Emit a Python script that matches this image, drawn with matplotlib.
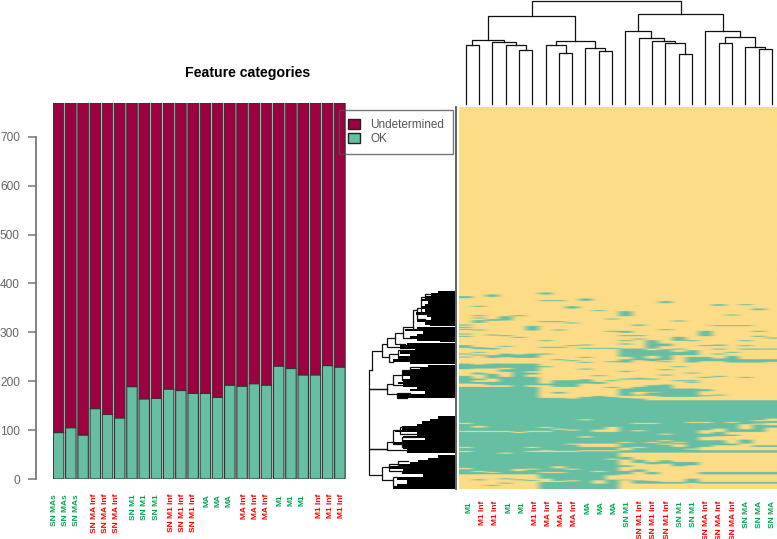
import numpy as np
import matplotlib
matplotlib.use("Agg")
import matplotlib.pyplot as plt
from matplotlib.patches import Patch

plt.rcParams['font.family'] = ['Liberation Sans', 'DejaVu Sans']

W, H = 777, 539
GREEN = "#66BFA3"
MAROON = "#9E0142"
YELLOW = "#FDDC87"
LAB_GREEN = "#00A650"
LAB_RED = "#FF0000"

# stacked bars
total_features = 769
ok_counts = [95, 105, 90, 144, 132, 125, 189, 164, 165, 184, 181, 175,
             175, 167, 192, 190, 195, 192, 231, 226, 213, 213, 232, 229]
bar_labels = ["SN MAs"]*3 + ["SN MA Inf"]*3 + ["SN M1"]*3 + ["SN M1 Inf"]*3 + \
             ["MA"]*3 + ["MA Inf"]*3 + ["M1"]*3 + ["M1 Inf"]*3
# the labels sit in groups, not exactly below the bars
bar_label_pos = [-0.33, 0.57, 1.48, 2.95, 3.85, 4.75, 6.15, 7.05, 8.03, 9.26, 10.16, 11.07,
                 12.13, 13.03, 13.93, 15.16, 16.07, 16.97, 18.1, 19.0, 19.92, 21.3, 22.2, 23.1]

heat_labels = ["M1", "M1 Inf", "M1 Inf", "M1", "M1", "M1 Inf", "MA Inf", "MA Inf", "MA Inf",
               "MA", "MA", "MA", "SN M1", "SN M1 Inf", "SN M1 Inf", "SN M1 Inf", "SN M1", "SN M1",
               "SN MA Inf", "SN MA Inf", "SN MA Inf", "SN MA", "SN MA", "SN MA"]

# column dendrogram: (left, right, height), ids above 23 are earlier merges
col_merges = [(4, 5, 53.7), (3, 24, 58.7), (2, 25, 61.7), (0, 1, 58.7), (27, 26, 63.7),
              (7, 8, 51), (6, 29, 58.7), (10, 11, 53), (9, 31, 55.7), (30, 32, 62.7),
              (28, 33, 87.7), (16, 17, 49.7), (15, 35, 60.7), (14, 36, 62.7), (13, 37, 66.3),
              (12, 38, 73.3), (19, 20, 61), (22, 23, 55), (21, 41, 56.7), (40, 42, 67),
              (18, 43, 72.7), (39, 44, 90.3), (34, 45, 103.3)]

# heatmap rows, counted down from the first row with any OK cells.
# plain int = thin band, tuple = (first, last)
rows_above = 534
rows_below = 611
upper_ok = [
    [(33, 39), 118, 125, 131, 145, 152, (180, 188), 205, 214, (235, 252), (272, 295), (305, 360)],
    [62, 90, 97, (105, 113), 133, (186, 192), 200, 208, (238, 250), (262, 268), (280, 285), (290, 296), (305, 360)],
    [(28, 35), (102, 107), 148, (188, 193), (210, 218), (235, 250), (266, 280), (290, 300), (305, 360)],
    [(93, 106), 150, 182, (205, 216), (235, 248), (252, 260), (275, 300), (305, 360)],
    [90, 155, (208, 218), (235, 360)],
    [(122, 136), (205, 218), (235, 258), (262, 268), (275, 300), (305, 360)],
    [(22, 28), 45, 108, 165, 185, 205, 243, (295, 300), (338, 360)],
    [45, 108, 133, 185, 222, (285, 305), (320, 325), (338, 360)],
    [(63, 70), 112, 180, 225, (285, 305), (340, 360)],
    [(40, 47), 178, 188, 215, 230, 250, (282, 295), (335, 360)],
    [75, 188, 270, (290, 296), (332, 360)],
    [100, 137, 188, 228, 285, 305, (335, 360)],
    [(78, 93), (137, 143), 150, 165, 175, (190, 215), (222, 232), 257, 280, (310, 332), (338, 360)],
    [(118, 122), 150, 160, (190, 225), (278, 283), (305, 320), 328, (340, 360)],
    [(165, 190), (195, 212), (220, 228), 280, (300, 320), (322, 332), (345, 360)],
    [(48, 54), 132, (175, 183), (192, 225), 228, 252, 268, (298, 335), (345, 360)],
    [106, (155, 167), 190, (200, 210), 243, 285, (310, 335), (345, 360)],
    [165, (195, 210), (215, 232), 262, 285, 290, (310, 335), (345, 360)],
    [(137, 153), 180, (215, 228), 275, (312, 318), 330, (345, 360)],
    [(57, 62), 120, (178, 182), 190, 205, (220, 228), 272, 328, (345, 360)],
    [88, 120, 200, (212, 232), (345, 360)],
    [57, 120, 165, 180, 190, (222, 232), 275, (345, 360)],
    [(70, 75), 137, 152, 190, (222, 232), (345, 360)],
    [157, 190, (222, 230), (345, 360)],
]
# lower block is OK by default, these are the Undetermined bands
lower_offset = 345
lower_start = 360
lower_undet = [
    [68, 92, 140, 152, (203, 207), (222, 266)],
    [(77, 82), 92, 212, (222, 237), (240, 266)],
    [92, 215, (222, 254), (257, 266)],
    [92, 157, (222, 234), (237, 247), (250, 266)],
    [95, (206, 212), (222, 237), (240, 266)],
    [92, 140, 152, 205, (222, 239), (242, 266)],
    [80, 92, (150, 155), 215, (235, 245)],
    [85, 152, (198, 204), 215, 242],
    [88, 130, 152, 205, 240],
    [57, (108, 112), (130, 140), 150],
    [(88, 95), (130, 140), 150, 212, (240, 250)],
    [(80, 95), (130, 140), 150, 175, (225, 238)],
    [125, (142, 150), (157, 170), (178, 195), (200, 212), (222, 238), (240, 266)],
    [68, 90, 140, (157, 178), (188, 207), (215, 240), (250, 266)],
    [68, 125, (157, 185), (192, 215), (222, 242), (250, 266)],
    [100, 120, 130, (157, 180), (190, 245), (250, 266)],
    [125, (132, 140), (157, 185), (198, 245), (250, 266)],
    [65, 145, (157, 185), (195, 235), (248, 266)],
    [65, (90, 100), (110, 120), (140, 150), (157, 215), (222, 245), (250, 266)],
    [(85, 95), (108, 120), (135, 150), (157, 215), (222, 245), (250, 266)],
    [65, (95, 103), (107, 130), (135, 150), (157, 215), (222, 245), (250, 266)],
    [(72, 87), (95, 118), (130, 150), (157, 215), (222, 245), (250, 266)],
    [60, 70, (95, 135), (140, 150), (157, 215), (222, 245), (250, 266)],
    [(55, 62), (68, 75), (82, 135), (140, 150), (157, 215), (222, 245), (250, 266)],
]

# row dendrogram: (depth, row_a, depth_a, row_b, depth_b) brackets
row_brackets = [
    (28, 255, 35, 310, 82), (28, 310, 82, 490, 82), (28, 490, 82, 570, 65), (35, 198, 65, 255, 35),
    (65, 175, 82, 215, 88), (82, 158, 105, 185, 120), (105, 142, 130, 175, 135), (130, 125, 160, 157, 155),
    (160, 75, 170, 130, 175), (170, 68, 182, 100, 195), (182, 35, 195, 85, 205), (195, 28, 212, 42, 210),
    (88, 205, 115, 230, 100), (115, 195, 150, 218, 130), (82, 295, 100, 325, 112), (100, 270, 125, 300, 130),
    (125, 255, 150, 285, 135), (150, 245, 180, 265, 165), (112, 322, 150, 338, 140),
    (82, 470, 100, 495, 140), (100, 433, 120, 475, 125), (120, 425, 165, 445, 170), (125, 455, 170, 485, 140),
    (65, 545, 88, 585, 100), (88, 535, 115, 557, 130), (100, 575, 110, 603, 105), (115, 527, 145, 545, 150),
]
# black mass of the leaves: row where it starts, depth it reaches
blob_rows = [18, 25, 33, 42, 48, 55, 62, 72, 80, 88, 96, 104, 110, 120, 123, 125, 130, 137, 145, 152, 160, 167,
             170, 172, 180, 190, 195, 205, 212, 222, 230, 235, 238, 245, 252, 258, 265, 272, 280, 290, 297, 305,
             312, 318, 325, 332, 338, 393, 400, 407, 415, 423, 433, 440, 445, 451, 457, 463, 470, 480, 490, 500,
             503, 510, 517, 523, 530, 537, 543, 550, 557, 567, 575, 585, 595, 603]
blob_depth = [235, 212, 195, 182, 205, 195, 182, 195, 168, 200, 212, 170, 195, 210, 286, 170, 135, 190, 170, 150, 170, 240,
              286, 140, 120, 165, 120, 150, 115, 100, 150, 286, 205, 180, 150, 125, 130, 150, 130, 115, 130, 170,
              150, 195, 115, 110, 286, 235, 210, 185, 170, 125, 105, 170, 170, 130, 195, 130, 100, 130, 140, 140,
              286, 235, 205, 175, 150, 115, 90, 130, 125, 190, 110, 140, 110, 100]
blob_end = 611


def px_axes(x0, y0, x1, y1):
    # axes from pixel box, y counted from the top like in the picture
    return fig.add_axes([x0/W, 1-y1/H, (x1-x0)/W, (y1-y0)/H])


def fill_bands(col_vals, bands, offset, value):
    for b in bands:
        if isinstance(b, tuple):
            lo, hi = b
        else:
            lo, hi = b, b+3
        col_vals[lo+offset:hi+offset] = value


fig = plt.figure(figsize=(W/100, H/100), dpi=100)

# bars, no snapping so the gaps between them stay even
ax = px_axes(52.5, 103, 346, 479)
xs = np.arange(len(ok_counts))
undetermined = [total_features-v for v in ok_counts]
low = ax.bar(xs, ok_counts, width=0.86, color=GREEN, edgecolor="#333333", linewidth=0.8)
high = ax.bar(xs, undetermined, bottom=ok_counts, width=0.86, color=MAROON, edgecolor="#333333", linewidth=0.8)
for b in list(low)+list(high):
    b.set_snap(False)
ax.set_xlim(-0.5, 23.5)
ax.set_ylim(0, total_features)
ax.patch.set_alpha(0)
for s in ["top", "right", "bottom"]:
    ax.spines[s].set_visible(False)
ax.spines["left"].set_position(("outward", 12.2))
ax.spines["left"].set_bounds(0, 700)
ax.spines["left"].set_color("#777777")
ax.spines["left"].set_linewidth(1.3)
ax.set_xticks([])
ax.set_yticks(np.arange(0, 701, 100))
ax.tick_params(axis="y", length=5.8, width=1.1, color="#777777", labelcolor="#666666", labelsize=8.6, pad=5.5)
for p, lab in zip(bar_label_pos, bar_labels):
    ax.annotate(lab, xy=(p, 0), xycoords=("data", "axes fraction"), xytext=(0, -10.8), textcoords="offset points",
                rotation=90, ha="center", va="top", fontsize=6, fontweight="bold",
                color=LAB_RED if "Inf" in lab else LAB_GREEN)
fig.text(248/W, 1-73/H, "Feature categories", ha="center", va="center", fontsize=10.2, fontweight="bold")

# heatmap
hm = px_axes(459, 107, 778.5, 489)
n_rows = rows_above+rows_below
matrix = np.zeros((n_rows, len(heat_labels)))
for c in range(len(heat_labels)):
    fill_bands(matrix[:, c], upper_ok[c], rows_above, 1)
    matrix[rows_above+lower_start:, c] = 1
    fill_bands(matrix[:, c], lower_undet[c], rows_above+lower_offset, 0)
cmap = matplotlib.colors.ListedColormap([YELLOW, GREEN])
hm.imshow(matrix, aspect="auto", cmap=cmap, vmin=0, vmax=1, interpolation="antialiased",
          extent=(-0.5, 23.5, rows_below, -rows_above))
hm.set_xticks([])
hm.set_yticks([])
for s in hm.spines.values():
    s.set_visible(False)
for i, lab in enumerate(heat_labels):
    hm.annotate(lab, xy=(0.251+0.992*i, 0), xycoords=("data", "axes fraction"), xytext=(0, -8.6),
                textcoords="offset points", rotation=90, ha="center", va="top", fontsize=6, fontweight="bold",
                color=LAB_RED if "Inf" in lab else LAB_GREEN, annotation_clip=False)

# column dendrogram
top = px_axes(459, 0.7, 778.5, 104)
top.set_xlim(-0.5, 23.5)
top.set_ylim(0, 103.3)
top.axis("off")
pos = {i: (float(i), 0.0) for i in range(24)}
for k, (a, b, h) in enumerate(col_merges):
    xa, ha = pos[a]
    xb, hb = pos[b]
    top.plot([xa, xa, xb, xb], [ha, h, h, hb], color="#111111", lw=0.9, solid_joinstyle="miter", clip_on=False)
    pos[24+k] = ((xa+xb)/2, h)

# row dendrogram
left = px_axes(360, 107, 455.3, 489)
left.set_xlim(0, 286)
left.set_ylim(rows_below, -rows_above)
left.axis("off")
ends = blob_rows[1:]+[blob_end]
for r0, r1, d in zip(blob_rows, ends, blob_depth):
    if d < 286:
        left.barh(r0, 286-d, left=d, height=r1-r0, align="edge", color="black", linewidth=0)
for d, ra, da, rb, db in row_brackets:
    left.plot([da, d, d, db], [ra, ra, rb, rb], color="#111111", lw=0.9, solid_joinstyle="miter")
left.plot([288, 288], [-rows_above, rows_below], color="#555555", lw=1.3, clip_on=False)

# legend sits below the bars in the original, so the last bar shows through
handles = [Patch(facecolor=MAROON, edgecolor="#222222", label="Undetermined"),
           Patch(facecolor=GREEN, edgecolor="#222222", label="OK")]
leg = fig.legend(handles=handles, loc="upper left", bbox_to_anchor=(339/W, 1-110/H), borderaxespad=0,
                 fontsize=8.5, labelcolor="#555555", fancybox=False, edgecolor="#555555", facecolor="none",
                 handlelength=1.0, handleheight=0.9, handletextpad=0.9, labelspacing=0.2, borderpad=0.75)
leg.get_frame().set_linewidth(1.0)

fig.savefig("out.png", dpi=100)
